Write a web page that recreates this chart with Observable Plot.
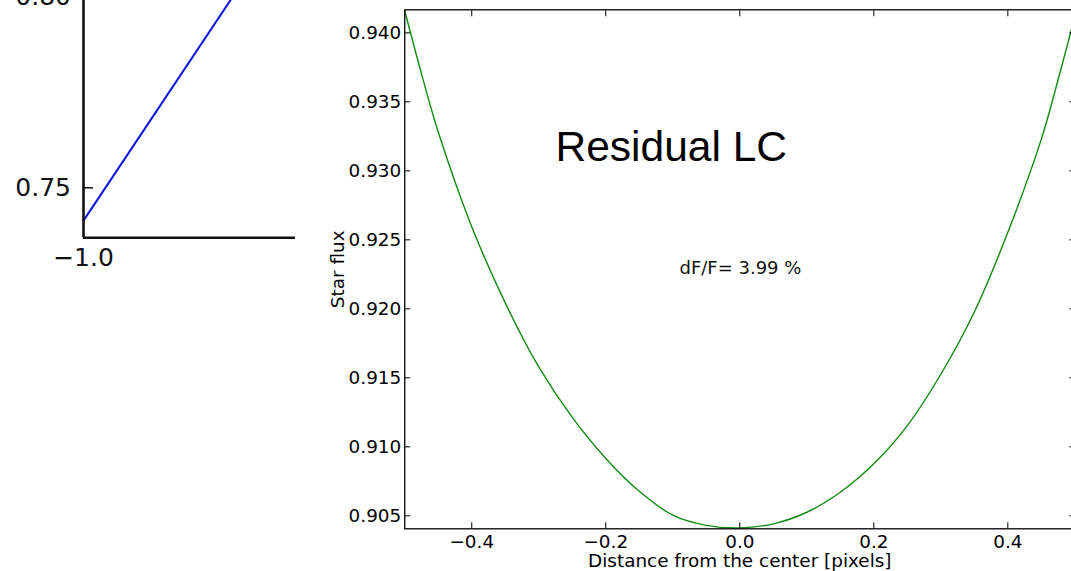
<!DOCTYPE html>
<html><head><meta charset="utf-8">
<script src="https://cdn.jsdelivr.net/npm/d3@7"></script>
<script src="https://cdn.jsdelivr.net/npm/@observablehq/plot@0.6"></script>
<style>
html,body{margin:0;padding:0;background:#fff;}
#wrap{position:relative;width:1071px;height:571px;overflow:hidden;background:#fff;}
#left{position:absolute;left:0;top:-40px;width:300px;height:330px;}
#main{position:absolute;left:320px;top:0;width:760px;height:571px;}
#wrap svg{max-width:none !important;}
</style></head><body><div id="wrap"><div id="left"></div><div id="main"></div></div>
<script>
// ---- main panel: Residual LC ----
const distance = [-0.5, -0.475, -0.45, -0.4, -0.35, -0.3, -0.25, -0.2, -0.15, -0.1, -0.05, 0.0, 0.05, 0.1, 0.15, 0.2, 0.25, 0.3, 0.35, 0.4, 0.45, 0.475, 0.5];
const starFlux = [0.9416, 0.93703, 0.93281, 0.92595, 0.92043, 0.91579, 0.91213, 0.90916, 0.90678, 0.90505, 0.90431, 0.90413, 0.90442, 0.90526, 0.90671, 0.90877, 0.91154, 0.91526, 0.91977, 0.92555, 0.9323, 0.9366, 0.9412];
const fluxTicks = [0.905, 0.910, 0.915, 0.920, 0.925, 0.930, 0.935, 0.940];
const distTicks = [-0.4, -0.2, 0.0, 0.2, 0.4];
const titleLabel = ["Residual LC"];
const titleX = [-0.275];
const titleY = [0.9307];
const noteLabel = ["dF/F= 3.99 %"];
const noteX = [-0.09];
const noteY = [0.92249];
const xLabel = "Distance from the center [pixels]";
const yLabel = "Star flux";

// ---- left (cropped) panel ----
const leftX = [-1.0, -0.70];
const leftY = [0.7414, 0.8039];
const leftYTicks = [0.75, 0.80];
const leftXTicks = [-1.0];

const curve = distance.map((d, i) => ({x: d, y: starFlux[i]}));
const titles = titleLabel.map((t, i) => ({t, x: titleX[i], y: titleY[i]}));
const notes = noteLabel.map((t, i) => ({t, x: noteX[i], y: noteY[i]}));
const leftLine = leftX.map((d, i) => ({x: d, y: leftY[i]}));

const leftPlot = Plot.plot({
  width: 300, height: 330,
  marginLeft: 83, marginRight: 5, marginTop: 36.5, marginBottom: 52.7,
  x: {domain: [-1.0, -0.6]},
  y: {domain: [0.7369, 0.80]},
  style: {fontFamily: "DejaVu Sans", fontSize: "25px", color: "#111", background: "white", overflow: "visible", maxWidth: "none"},
  marks: [
    Plot.axisY({ticks: leftYTicks, tickSize: -10, tickPadding: 22.5, tickFormat: d3.format(".2f"), label: null, strokeWidth: 1.5}),
    Plot.axisX({ticks: leftXTicks, tickSize: 0, tickPadding: 10, tickFormat: d3.format(".1f"), label: null}),
    Plot.line(leftLine, {x: "x", y: "y", stroke: "#1010e0", strokeWidth: 2}),
    Plot.ruleX([-1.0], {stroke: "#111", strokeWidth: 2.6}),
    Plot.ruleY([0.7369], {stroke: "#111", strokeWidth: 2.6})
  ]
});
document.getElementById("left").appendChild(leftPlot);

const mainPlot = Plot.plot({
  width: 760, height: 571,
  marginLeft: 84.25, marginRight: 5.65, marginTop: 9.3, marginBottom: 42.7,
  x: {domain: [-0.5, 0.5]},
  y: {domain: [0.90406, 0.94167]},
  style: {fontFamily: "DejaVu Sans", fontSize: "18.4px", color: "black", background: "white", overflow: "visible", maxWidth: "none"},
  marks: [
    Plot.line(curve, {x: "x", y: "y", stroke: "#108a10", strokeWidth: 1.4, curve: "catmull-rom"}),
    Plot.frame({stroke: "black", strokeWidth: 1.3}),
    Plot.axisY({anchor: "left", ticks: fluxTicks, tickSize: -6, tickPadding: 9.5, tickFormat: d3.format(".3f"), label: null}),
    Plot.axisY({anchor: "right", ticks: fluxTicks, tickSize: -6, fill: "none", label: null}),
    Plot.axisX({anchor: "bottom", ticks: distTicks, tickSize: -6, tickPadding: 12, tickFormat: d3.format(".1f"), label: null}),
    Plot.axisX({anchor: "top", ticks: distTicks, tickSize: -6, fill: "none", label: null}),
    Plot.text([yLabel], {text: d => d, frameAnchor: "left", dx: -67, rotate: -90, textAnchor: "middle", lineAnchor: "middle"}),
    Plot.text([xLabel], {text: d => d, frameAnchor: "bottom", dy: 38.5, textAnchor: "middle", lineAnchor: "bottom"}),
    Plot.text(titles, {x: "x", y: "y", text: "t", textAnchor: "start", lineAnchor: "bottom", fontSize: 42.5, fontFamily: "Liberation Sans", fill: "black"}),
    Plot.text(notes, {x: "x", y: "y", text: "t", textAnchor: "start", lineAnchor: "bottom", fontSize: 18, fill: "#111"})
  ]
});
document.getElementById("main").appendChild(mainPlot);
</script>
</body></html>
